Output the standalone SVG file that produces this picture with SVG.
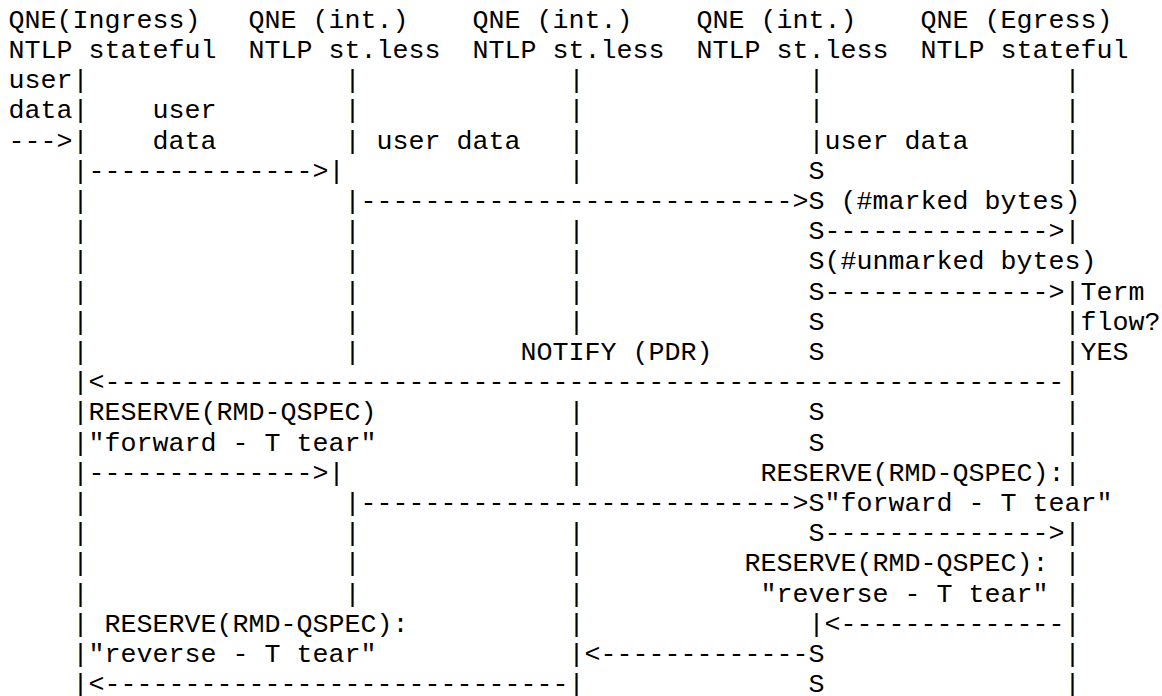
<svg xmlns="http://www.w3.org/2000/svg" width="1162" height="696" viewBox="0 0 1162 696">
  <style>
    text { font-family: "Liberation Mono", "DejaVu Sans Mono", monospace; font-size: 26.667px; fill: #000; white-space: pre; }
  </style>
  <rect x="0" y="0" width="1162" height="696" fill="#fff"/>

  <!-- QoS NSIS entities (column headers); one character cell = 16px, origin x = 8.5 -->
  <g id="qne-ingress">
    <text x="8.5" y="27.8">QNE(Ingress)</text>
    <text x="8.5" y="58">NTLP stateful</text>
  </g>
  <g id="qne-int-1">
    <text x="248.5" y="27.8">QNE (int.)</text>
    <text x="248.5" y="58">NTLP st.less</text>
  </g>
  <g id="qne-int-2">
    <text x="472.5" y="27.8">QNE (int.)</text>
    <text x="472.5" y="58">NTLP st.less</text>
  </g>
  <g id="qne-int-3">
    <text x="696.5" y="27.8">QNE (int.)</text>
    <text x="696.5" y="58">NTLP st.less</text>
  </g>
  <g id="qne-egress">
    <text x="920.5" y="27.8">QNE (Egress)</text>
    <text x="920.5" y="58">NTLP stateful</text>
  </g>

  <!-- lifelines, S marks and message arrows -->
  <g id="connectors">
    <!-- row 3 -->
    <text x="72.5" y="88.2">|</text><text x="344.5" y="88.2">|</text><text x="568.5" y="88.2">|</text><text x="808.5" y="88.2">|</text><text x="1064.5" y="88.2">|</text>
    <!-- row 4 -->
    <text x="72.5" y="118.4">|</text><text x="344.5" y="118.4">|</text><text x="568.5" y="118.4">|</text><text x="808.5" y="118.4">|</text><text x="1064.5" y="118.4">|</text>
    <!-- row 5 -->
    <text x="8.5" y="148.6">---&gt;|</text><text x="344.5" y="148.6">|</text><text x="568.5" y="148.6">|</text><text x="808.5" y="148.6">|</text><text x="1064.5" y="148.6">|</text>
    <!-- row 6 -->
    <text x="72.5" y="178.8">|--------------&gt;|</text><text x="568.5" y="178.8">|</text><text x="808.5" y="178.8">S</text><text x="1064.5" y="178.8">|</text>
    <!-- row 7 -->
    <text x="72.5" y="209">|</text><text x="344.5" y="209">|---------------------------&gt;S</text>
    <!-- row 8 -->
    <text x="72.5" y="239.2">|</text><text x="344.5" y="239.2">|</text><text x="568.5" y="239.2">|</text><text x="808.5" y="239.2">S--------------&gt;|</text>
    <!-- row 9 -->
    <text x="72.5" y="269.4">|</text><text x="344.5" y="269.4">|</text><text x="568.5" y="269.4">|</text><text x="808.5" y="269.4">S</text>
    <!-- row 10 -->
    <text x="72.5" y="299.6">|</text><text x="344.5" y="299.6">|</text><text x="568.5" y="299.6">|</text><text x="808.5" y="299.6">S--------------&gt;|</text>
    <!-- row 11 -->
    <text x="72.5" y="329.8">|</text><text x="344.5" y="329.8">|</text><text x="568.5" y="329.8">|</text><text x="808.5" y="329.8">S</text><text x="1064.5" y="329.8">|</text>
    <!-- row 12 -->
    <text x="72.5" y="360">|</text><text x="344.5" y="360">|</text><text x="808.5" y="360">S</text><text x="1064.5" y="360">|</text>
    <!-- row 13 -->
    <text x="72.5" y="390.2">|&lt;------------------------------------------------------------|</text>
    <!-- row 14 -->
    <text x="72.5" y="420.4">|</text><text x="568.5" y="420.4">|</text><text x="808.5" y="420.4">S</text><text x="1064.5" y="420.4">|</text>
    <!-- row 15 -->
    <text x="72.5" y="450.6">|</text><text x="568.5" y="450.6">|</text><text x="808.5" y="450.6">S</text><text x="1064.5" y="450.6">|</text>
    <!-- row 16 -->
    <text x="72.5" y="480.8">|--------------&gt;|</text><text x="568.5" y="480.8">|</text><text x="1064.5" y="480.8">|</text>
    <!-- row 17 -->
    <text x="72.5" y="511">|</text><text x="344.5" y="511">|---------------------------&gt;S</text>
    <!-- row 18 -->
    <text x="72.5" y="541.2">|</text><text x="344.5" y="541.2">|</text><text x="568.5" y="541.2">|</text><text x="808.5" y="541.2">S--------------&gt;|</text>
    <!-- row 19 -->
    <text x="72.5" y="571.4">|</text><text x="344.5" y="571.4">|</text><text x="568.5" y="571.4">|</text><text x="1064.5" y="571.4">|</text>
    <!-- row 20 -->
    <text x="72.5" y="601.6">|</text><text x="344.5" y="601.6">|</text><text x="568.5" y="601.6">|</text><text x="1064.5" y="601.6">|</text>
    <!-- row 21 -->
    <text x="72.5" y="631.8">|</text><text x="568.5" y="631.8">|</text><text x="808.5" y="631.8">|&lt;--------------|</text>
    <!-- row 22 -->
    <text x="72.5" y="662">|</text><text x="568.5" y="662">|&lt;-------------S</text><text x="1064.5" y="662">|</text>
    <!-- row 23 -->
    <text x="72.5" y="692.2">|&lt;-----------------------------|</text><text x="808.5" y="692.2">S</text><text x="1064.5" y="692.2">|</text>
  </g>

  <!-- message and state labels -->
  <g id="labels">
    <text x="8.5" y="88.2">user</text>
    <text x="8.5" y="118.4">data</text>
    <text x="152.5" y="118.4">user</text>
    <text x="152.5" y="148.6">data</text>
    <text x="376.5" y="148.6">user data</text>
    <text x="824.5" y="148.6">user data</text>
    <text x="840.5" y="209">(#marked bytes)</text>
    <text x="824.5" y="269.4">(#unmarked bytes)</text>
    <text x="1080.5" y="299.6">Term</text>
    <text x="1080.5" y="329.8">flow?</text>
    <text x="520.5" y="360">NOTIFY (PDR)</text>
    <text x="1080.5" y="360">YES</text>
    <text x="88.5" y="420.4">RESERVE(RMD-QSPEC)</text>
    <text x="88.5" y="450.6">"forward - T tear"</text>
    <text x="760.5" y="480.8">RESERVE(RMD-QSPEC):</text>
    <text x="824.5" y="511">"forward - T tear"</text>
    <text x="744.5" y="571.4">RESERVE(RMD-QSPEC):</text>
    <text x="760.5" y="601.6">"reverse - T tear"</text>
    <text x="104.5" y="631.8">RESERVE(RMD-QSPEC):</text>
    <text x="88.5" y="662">"reverse - T tear"</text>
  </g>
</svg>
